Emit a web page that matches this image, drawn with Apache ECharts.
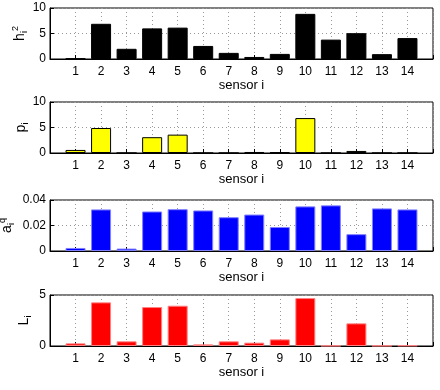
<!DOCTYPE html>
<html><head><meta charset="utf-8">
<script src="https://cdn.jsdelivr.net/npm/echarts@6/dist/echarts.min.js"></script>
<style>html,body{margin:0;padding:0;background:#fff}#c{width:440px;height:390px}</style>
</head><body><div id="c"></div>
<script>
const sensors = [1,2,3,4,5,6,7,8,9,10,11,12,13,14];
const h2 = [0.1,6.9,2.0,6.0,6.15,2.56,1.2,0.4,1.0,8.85,3.8,5.06,0.95,4.1];
const p = [0.6,4.9,0,3.1,3.6,0,0,0.2,0.15,6.85,0,0.4,0,0];
const aq = [0.0024,0.0326,0.0019,0.031,0.0328,0.0318,0.0265,0.0286,0.0188,0.035,0.0358,0.0132,0.0334,0.0326];
const L = [0.26,4.28,0.46,3.82,3.95,0.16,0.46,0.33,0.65,4.7,0.03,2.22,0.03,0.05];
const yMax = [10,10,0.04,5];
const yInt = [5,5,0.02,5];
const yNames = ['{m|h}{s|i}{p|2}','{m|p}{s|i}','{m|a}{s|i}{p|q}','{m|L}{s|i}'];
const xLabel = 'sensor i';

const tops = [8,102,200,295];
const nameX = [20,21,7,24];
const H = 51;
const font = 'Liberation Sans, Arial, sans-serif';
const grid = [], xAxis = [], yAxis = [], series = [], graphic = [];
const datasets = [h2,p,aq,L];
const fills = ['#000000','#ffff00','#0000ff','#ff0000'];
const edges = ['#000000','#000000','#8080ff','#ff8080'];
const rich = {m:{fontSize:14,fontFamily:font,fill:'#000',lineHeight:18,verticalAlign:'middle'},
              s:{fontSize:9,fontFamily:font,fill:'#000',verticalAlign:'bottom',lineHeight:18},
              p:{fontSize:9,fontFamily:font,fill:'#000',verticalAlign:'top',lineHeight:18}};
datasets.forEach((d,k)=>{
  grid.push({left:50,right:7,top:tops[k],height:H,show:true,borderColor:'#000',borderWidth:1,backgroundColor:'#fff',containLabel:false,outerBoundsMode:'none'});
  xAxis.push({type:'value',gridIndex:k,min:0,max:15,interval:1,
    name:xLabel,nameLocation:'middle',nameGap:20,nameMoveOverlap:false,
    nameTextStyle:{fontFamily:font,fontSize:13,color:'#000'},
    axisLine:{show:true,lineStyle:{color:'#000'}},
    axisTick:{show:true,inside:true,length:4,lineStyle:{color:'#000'},interval:0},
    axisLabel:{fontFamily:font,fontSize:12,color:'#000',margin:7,
      formatter:v=>(v>=1&&v<=14)?String(v):''},
    splitLine:{show:true,lineStyle:{color:'#999',type:[1,3],width:1}}
  });
  yAxis.push({type:'value',gridIndex:k,min:0,max:yMax[k],interval:yInt[k],
    axisLine:{show:true,lineStyle:{color:'#000'}},
    axisTick:{show:true,inside:true,length:4,lineStyle:{color:'#000'}},
    axisLabel:{fontFamily:font,fontSize:12,color:'#000',margin:4,
      formatter:v=>String(+v.toFixed(4))},
    splitLine:{show:true,lineStyle:{color:'#999',type:[1,3],width:1}}
  });
  series.push({type:'bar',xAxisIndex:k,yAxisIndex:k,barWidth:20,
    data:sensors.map((s,i)=>[s,d[i]]),
    itemStyle:{color:fills[k],borderColor:edges[k],borderWidth:1},
    silent:true,animation:false});
  graphic.push({type:'text',x:nameX[k],y:tops[k]+H/2,rotation:Math.PI/2,silent:true,
    style:{text:yNames[k],rich:rich,fill:'#000',font:'14px '+font,align:'center',verticalAlign:'middle'}});
});
const chart = echarts.init(document.getElementById('c'),null,{renderer:'canvas'});
chart.setOption({animation:false,grid,xAxis,yAxis,series,graphic});
</script></body></html>
